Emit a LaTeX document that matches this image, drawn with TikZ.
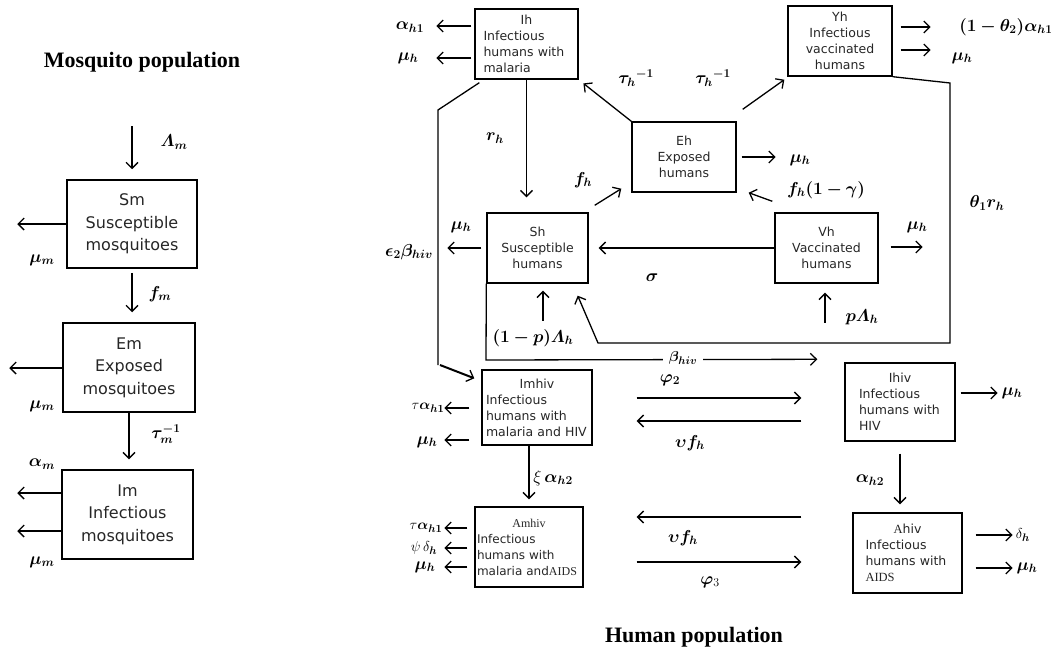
\documentclass[tikz,border=0pt]{standalone}
\usepackage{amsmath,amssymb,bm}
\usepackage{fontspec}
\setmainfont{Liberation Serif}
\setsansfont{DejaVu Sans}
\usetikzlibrary{arrows.meta,positioning}
\newcommand{\boxhead}[1]{\makebox[\hsize]{#1}}

\begin{document}
\begin{tikzpicture}[x=1pt,y=1pt]
                \tikzstyle{every node}+=[inner sep=0pt]
                \tikzstyle{mbox}=[draw, line width=1.5pt, font=\sffamily\fontsize{16}{22.5}\selectfont, text=black!85, align=center]
                \tikzstyle{hbox}=[draw, line width=1.4pt, font=\sffamily\fontsize{12.5}{16}\selectfont, text=black!85]
                \tikzstyle{arr}=[line width=1.3pt, -{Straight Barb[length=6pt,width=12pt,line width=1.3pt]}]
                \tikzstyle{ln}=[line width=1.3pt]
                \tikzstyle{lbl}=[font=\fontsize{17}{19}\selectfont]
                \tikzstyle{slbl}=[font=\fontsize{15}{17}\selectfont]
                \tikzstyle{title}=[font=\bfseries\fontsize{22}{26}\selectfont]
                \useasboundingbox (0,0) rectangle (1051,-655);
                \node [title] (tm) at (142,-62) {Mosquito population};
                \node [title] (th) at (694,-637) {Human population};
                \node [mbox, minimum width=130pt, minimum height=88pt] (sm) at (132,-224) {Sm\\Susceptible\\mosquitoes};
                \node [mbox, minimum width=132pt, minimum height=89pt] (em) at (129,-367.5) {Em\\Exposed\\mosquitoes};
                \node [mbox, minimum width=131pt, minimum height=89pt] (im) at (127.5,-514.5) {Im\\Infectious\\mosquitoes};
                \draw [arr] ([yshift=53pt]sm.north) -- ([yshift=10pt]sm.north);
                \node [lbl] (lm) at (174,-142) {$\bm{\varLambda_m}$};
                \draw [arr] (sm.west) -- ++(-49,0);
                \node [lbl] (mu1) at (42,-260) {$\bm{\mu_m}$};
                \draw [arr, shorten <=4pt, shorten >=10pt] (sm.south) -- (sm.south |- em.north);
                \node [lbl] (fm) at (160,-294) {$\bm{f_m}$};
                \draw [arr] ([yshift=-0.5pt]em.west) -- ++(-53,0);
                \node [lbl] (mu2) at (42,-406) {$\bm{\mu_m}$};
                \draw [arr, shorten >=10pt] (em.south) -- (em.south |- im.north);
                \node [lbl] (tau1) at (166,-434) {$\bm{\tau_m^{-1}}$};
                \draw [arr] ([yshift=21.5pt]im.west) -- ++(-44,0);
                \draw [arr] ([yshift=-16.5pt]im.west) -- ++(-44,0);
                \node [lbl] (am) at (42,-464) {$\bm{\alpha_m}$};
                \node [lbl] (mu3) at (42,-562) {$\bm{\mu_m}$};
                \node [hbox, minimum width=103pt, minimum height=70pt, text width=86pt, align=left] (ih) at (526.5,-44) {\boxhead{Ih}\\Infectious\\humans with\\malaria};
                \node [hbox, minimum width=104pt, minimum height=70pt, align=center] (yh) at (840,-41) {Yh\\Infectious\\vaccinated\\humans};
                \node [hbox, minimum width=104pt, minimum height=70pt, align=center] (eh) at (684,-157) {Eh\\Exposed\\humans};
                \node [hbox, minimum width=101pt, minimum height=70pt, align=center] (sh) at (537.5,-248) {Sh\\Susceptible\\humans};
                \node [hbox, minimum width=103pt, minimum height=70pt, align=center] (vh) at (826.5,-248) {Vh\\Vaccinated\\humans};
                \node [hbox, minimum width=110pt, minimum height=75pt, text width=102pt, align=left] (imhiv) at (537,-407.5) {\boxhead{Imhiv}\\Infectious\\humans with\\malaria and HIV};
                \node [hbox, minimum width=110pt, minimum height=78pt, text width=82pt, align=left] (ihiv) at (900,-402) {\boxhead{Ihiv}\\Infectious\\humans with\\HIV};
                \node [hbox, minimum width=108pt, minimum height=80pt, text width=104pt, align=left, font=\sffamily\fontsize{12}{16}\selectfont] (amhiv) at (529,-547) {\boxhead{\rmfamily Amhiv}\\Infectious\\humans with\\\mbox{malaria and{\rmfamily AIDS}}};
                \node [hbox, minimum width=109pt, minimum height=80pt, text width=84pt, align=left] (ahiv) at (907.5,-553) {\boxhead{{\rmfamily A}hiv}\\Infectious\\humans with\\{\rmfamily AIDS}};
                \draw [arr] ([xshift=-3pt,yshift=18pt]ih.west) -- ++(-35,0);
                \draw [arr] ([xshift=-3pt,yshift=-14pt]ih.west) -- ++(-35,0);
                \node [lbl] (ah1) at (410,-27) {$\bm{\alpha_{h1}}$};
                \node [lbl] (mu4) at (408,-58) {$\bm{\mu_h}$};
                \draw [arr, shorten >=15pt] (ih.south) -- (ih.south |- sh.north);
                \node [lbl] (rh) at (495,-138) {$\bm{r_h}$};
                \coordinate (k1) at (438,-110);
                \coordinate (k2) at (438,-365);
                \draw [ln] ([xshift=5pt,yshift=-3pt]ih.south west) -- (k1) -- (k2);
                \draw [arr, line width=2pt] ([xshift=2pt]k2) -- ([xshift=-7pt,yshift=-9pt]imhiv.north west);
                \draw [arr, shorten >=6pt] (eh.north west) -- (ih.south east);
                \node [lbl] (tau2) at (636,-78) {$\bm{\tau_h{}^{-1}}$};
                \draw [arr] ([xshift=6pt,yshift=12pt]eh.north east) -- ([xshift=-3pt,yshift=-3pt]yh.south west);
                \node [lbl] (tau3) at (713,-78) {$\bm{\tau_h{}^{-1}}$};
                \draw [arr] ([xshift=5pt]eh.east) -- ++(34,0);
                \node [lbl] (mu5) at (800,-160) {$\bm{\mu_h}$};
                \draw [arr] ([xshift=6pt,yshift=7pt]sh.north east) -- ([xshift=-10pt,yshift=4pt]eh.south west);
                \node [lbl] (fh1) at (583,-180) {$\bm{f_h}$};
                \draw [arr] ([xshift=-2pt,yshift=11pt]vh.north west) -- ([xshift=12pt]eh.south east);
                \node [lbl] (fh2) at (826,-190) {$\bm{f_h(1-\gamma)}$};
                \draw [arr] ([xshift=8pt,yshift=14pt]yh.east) -- ++(30,0);
                \draw [arr] ([xshift=8pt,yshift=-9pt]yh.east) -- ++(30,0);
                \node [lbl] (ah2) at (1006,-27) {$\bm{(1-\theta_2)\alpha_{h1}}$};
                \node [lbl] (mu6) at (962,-58) {$\bm{\mu_h}$};
                \coordinate (k3) at (950,-83);
                \coordinate (k4) at (950,-343);
                \coordinate (k5) at (598,-343);
                \draw [arr] (yh.south east) -- (k3) -- (k4) -- (k5) -- ([xshift=-11pt,yshift=-12pt]sh.south east);
                \node [lbl] (th1) at (987,-203) {$\bm{\theta_1 r_h}$};
                \draw [arr] ([xshift=-5pt]sh.west) -- ++(-34,0);
                \node [lbl] (mu7) at (461,-227) {$\bm{\mu_h}$};
                \node [lbl] (eb) at (409,-252) {$\bm{\epsilon_2\beta_{hiv}}$};
                \draw [arr, shorten >=10pt] (vh.west) -- (sh.east);
                \node [lbl] (sg) at (652,-278) {$\bm{\sigma}$};
                \draw [arr] ([xshift=12pt,yshift=1pt]vh.east) -- ++(32,0);
                \node [lbl] (mu8) at (917,-227) {$\bm{\mu_h}$};
                \draw [arr] ([xshift=-1.5pt,yshift=-39pt]vh.south) -- ([xshift=-1.5pt,yshift=-9pt]vh.south);
                \node [lbl] (pl) at (862,-317) {$\bm{p\varLambda_h}$};
                \draw [arr] ([xshift=5.5pt,yshift=-37pt]sh.south) -- ([xshift=5.5pt,yshift=-7pt]sh.south);
                \node [lbl] (pl2) at (533,-338) {$\bm{(1-p)\varLambda_h}$};
                \coordinate (k6) at (486,-360);
                \draw [arr] (sh.south west) -- (k6) -- ([xshift=-27pt,yshift=3pt]ihiv.north west);
                \node [slbl, fill=white, inner xsep=6pt, inner ysep=2pt] (bh) at (683,-358) {$\bm{\beta_{hiv}}$};
                \draw [arr] ([xshift=-12pt,yshift=-0.5pt]imhiv.west) -- ++(-25,0);
                \draw [arr] ([xshift=-12pt,yshift=-32.5pt]imhiv.west) -- ++(-25,0);
                \node [slbl] (ta1) at (428,-408) {$\tau\bm{\alpha_{h1}}$};
                \node [lbl] (mu9) at (427,-442) {$\bm{\mu_h}$};
                \draw [arr, shorten <=44pt, shorten >=43pt] (imhiv.east |- 0,-398) -- (ihiv.west |- 0,-398);
                \node [lbl] (ph2) at (670,-380) {$\bm{\varphi_2}$};
                \draw [arr, shorten <=43pt, shorten >=44pt] (ihiv.west |- 0,-421) -- (imhiv.east |- 0,-421);
                \node [lbl] (uf1) at (690,-443) {$\bm{\upsilon f_h}$};
                \draw [arr] ([xshift=5pt,yshift=9pt]ihiv.east) -- ++(37,0);
                \node [lbl] (mu10) at (1012,-393) {$\bm{\mu_h}$};
                \draw [arr, shorten <=12pt, shorten >=8pt] (ihiv.south) -- (ihiv.south |- ahiv.north);
                \node [lbl] (ah3) at (870,-480) {$\bm{\alpha_{h2}}$};
                \draw [arr, shorten >=7pt] (imhiv.south -| amhiv.north) -- (amhiv.north);
                \node [lbl] (xa) at (553,-478) {$\xi\,\bm{\alpha_{h2}}$};
                \draw [arr] ([xshift=-7pt,yshift=19pt]amhiv.west) -- ++(-23,0);
                \draw [arr] ([xshift=-7pt,yshift=-1pt]amhiv.west) -- ++(-23,0);
                \draw [arr] ([xshift=-7pt,yshift=-20pt]amhiv.west) -- ++(-23,0);
                \node [slbl] (ta2) at (426,-528) {$\tau\bm{\alpha_{h1}}$};
                \node [slbl] (pd) at (424,-548) {$\psi\,\delta_{\bm{h}}$};
                \node [lbl] (mu11) at (425,-567) {$\bm{\mu_h}$};
                \draw [arr, shorten <=51pt, shorten >=53pt] (ahiv.west |- 0,-517) -- (amhiv.east |- 0,-517);
                \node [lbl] (uf2) at (683,-538) {$\bm{\upsilon f_h}$};
                \draw [arr, shorten <=53pt, shorten >=51pt] (amhiv.east |- 0,-562) -- (ahiv.west |- 0,-562);
                \node [lbl] (ph3) at (710,-582) {$\bm{\varphi}_3$};
                \draw [arr] ([xshift=13pt,yshift=18pt]ahiv.east) -- ++(37,0);
                \draw [arr] ([xshift=13pt,yshift=-15pt]ahiv.east) -- ++(37,0);
                \node [slbl] (dh) at (1023,-535) {$\delta_{\bm{h}}$};
                \node [lbl] (mu12) at (1027,-568) {$\bm{\mu_h}$};
\end{tikzpicture}
\end{document}
